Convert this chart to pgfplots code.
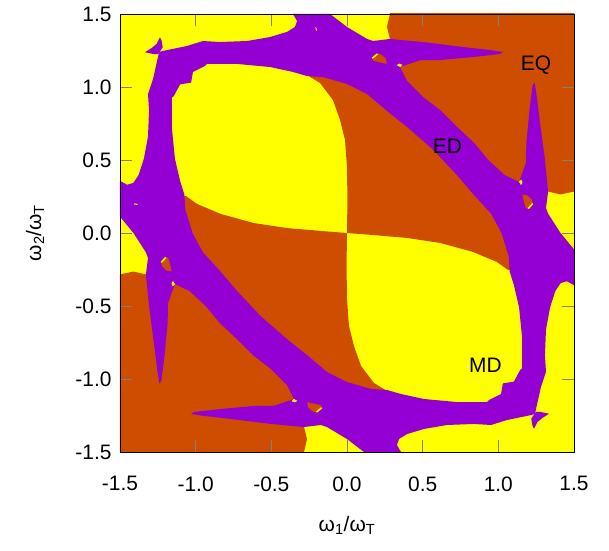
\documentclass[border=0pt]{standalone}
\usepackage{pgfplots}
\pgfplotsset{compat=1.18}
\usepackage{fontspec}
\setmainfont{Liberation Sans}
\definecolor{yy}{RGB}{255,255,0}
\definecolor{oo}{RGB}{206,77,0}
\definecolor{pp}{RGB}{148,0,211}
\begin{document}
\begin{tikzpicture}
\begin{axis}[
  scale only axis, width=454bp, height=438bp,
  xmin=-1.5, xmax=1.5, ymin=-1.5, ymax=1.5,
  axis on top,
  axis background/.style={fill=yy},
  xtick={-1.5,-1,-0.5,0,0.5,1,1.5},
  xticklabels={-1.5,-1.0,-0.5,0.0,0.5,1.0,1.5},
  ytick={-1.5,-1,-0.5,0,0.5,1,1.5},
  yticklabels={-1.5,-1.0,-0.5,0.0,0.5,1.0,1.5},
  tick align=inside, major tick length=12bp,
  tick style={gray, line width=0.5pt},
  axis line style={black, line width=0.7pt},
  ticklabel style={font=\fontsize{21}{25}\selectfont},
  xticklabel style={yshift=-21bp},
  yticklabel style={xshift=-5bp},
  xlabel={ω\textsubscript{1}/ω\textsubscript{T}},
  ylabel={ω\textsubscript{2}/ω\textsubscript{T}},
  label style={font=\fontsize{21}{25}\selectfont},
  xlabel style={at={(axis description cs:0.5,-0.167)}, anchor=center},
  ylabel style={at={(axis description cs:-0.187,0.5)}, anchor=center},
]
\coordinate (bl) at (rel axis cs:0,0);
\coordinate (tr) at (rel axis cs:1,1);
% orange region, upper right
\addplot[draw=none, fill=oo, mark=none] coordinates {
(0,0) (0.003,0.226) (0,0.45) (-0.013,0.637) (-0.046,0.774) (-0.093,0.911) (-0.178,1.027) (-0.264,1.082)
(-0.25,1.2) (0.1,1.25) (0.26,1.30) (0.284,1.329) (0.264,1.411) (0.284,1.5) (0.284,1.6) (1.6,1.6)
(1.6,0.284) (1.5,0.284) (1.411,0.264) (1.329,0.284) (1.30,0.26) (1.25,0.1) (1.2,-0.25)
(1.064,-0.253) (0.991,-0.199) (0.833,-0.130) (0.615,-0.068) (0.397,-0.034) (0.172,-0.014) (0,0)};
% orange region, lower left
\addplot[draw=none, fill=oo, mark=none] coordinates {
(0,0) (-0.003,-0.226) (0,-0.45) (0.013,-0.637) (0.046,-0.774) (0.093,-0.911) (0.178,-1.027) (0.264,-1.082)
(0.25,-1.2) (-0.1,-1.25) (-0.26,-1.30) (-0.284,-1.329) (-0.264,-1.411) (-0.284,-1.5) (-0.284,-1.6) (-1.6,-1.6)
(-1.6,-0.284) (-1.5,-0.284) (-1.411,-0.264) (-1.329,-0.284) (-1.30,-0.26) (-1.25,-0.1) (-1.2,0.25)
(-1.064,0.253) (-0.991,0.199) (-0.833,0.130) (-0.615,0.068) (-0.397,0.034) (-0.172,0.014) (0,0)};
% purple ring
\addplot[draw=none, fill=pp, mark=none, even odd rule] coordinates {
(-1.24,1.24) (-1.216,1.247) (-1.057,1.281) (-0.952,1.315) (-0.839,1.308) (-0.661,1.315) (-0.509,1.342) (-0.397,1.377) (-0.344,1.411) (-0.330,1.452) (-0.357,1.5) (-0.112,1.5) (0.0,1.411) (0.132,1.329) (0.172,1.315) (0.284,1.329) (0.502,1.308) (0.767,1.274) (0.945,1.253) (1.031,1.240) (1.011,1.226) (0.833,1.205) (0.615,1.185) (0.482,1.183) (0.350,1.137) (0.397,1.041) (0.502,0.932) (0.615,0.842) (0.727,0.727) (0.842,0.615) (0.932,0.502) (1.041,0.397) (1.137,0.350) (1.183,0.482) (1.185,0.615) (1.205,0.833) (1.226,1.011) (1.240,1.031) (1.253,0.945) (1.274,0.767) (1.308,0.502) (1.329,0.284) (1.315,0.172) (1.329,0.132) (1.411,0.0) (1.5,-0.112) (1.5,-0.357) (1.452,-0.330) (1.411,-0.344) (1.377,-0.397) (1.342,-0.509) (1.315,-0.661) (1.308,-0.839) (1.315,-0.952) (1.281,-1.057) (1.247,-1.216) (1.24,-1.24)
(1.216,-1.247) (1.057,-1.281) (0.952,-1.315) (0.839,-1.308) (0.661,-1.315) (0.509,-1.342) (0.397,-1.377) (0.344,-1.411) (0.330,-1.452) (0.357,-1.5) (0.112,-1.5) (0.0,-1.411) (-0.132,-1.329) (-0.172,-1.315) (-0.284,-1.329) (-0.502,-1.308) (-0.767,-1.274) (-0.945,-1.253) (-1.031,-1.240) (-1.011,-1.226) (-0.833,-1.205) (-0.615,-1.185) (-0.482,-1.183) (-0.350,-1.137) (-0.397,-1.041) (-0.502,-0.932) (-0.615,-0.842) (-0.727,-0.727) (-0.842,-0.615) (-0.932,-0.502) (-1.041,-0.397) (-1.137,-0.350) (-1.183,-0.482) (-1.185,-0.615) (-1.205,-0.833) (-1.226,-1.011) (-1.240,-1.031) (-1.253,-0.945) (-1.274,-0.767) (-1.308,-0.502) (-1.329,-0.284) (-1.315,-0.172) (-1.329,-0.132) (-1.411,0.0) (-1.5,0.112) (-1.5,0.357) (-1.452,0.330) (-1.411,0.344) (-1.377,0.397) (-1.342,0.509) (-1.315,0.661) (-1.308,0.839) (-1.315,0.952) (-1.281,1.057) (-1.247,1.216) (-1.24,1.24)
(-1.03,1.03) (-1.018,1.103) (-0.939,1.144) (-0.925,1.158) (-0.727,1.158) (-0.509,1.137) (-0.357,1.103) (-0.264,1.075) (-0.159,1.068) (0.0,1.021) (0.132,0.952) (0.264,0.836) (0.397,0.726) (0.57,0.57) (0.726,0.397) (0.836,0.264) (0.952,0.132) (1.021,0.0) (1.068,-0.159) (1.075,-0.264) (1.103,-0.357) (1.137,-0.509) (1.158,-0.727) (1.158,-0.925) (1.144,-0.939) (1.103,-1.018) (1.03,-1.03)
(1.018,-1.103) (0.939,-1.144) (0.925,-1.158) (0.727,-1.158) (0.509,-1.137) (0.357,-1.103) (0.264,-1.075) (0.159,-1.068) (0.0,-1.021) (-0.132,-0.952) (-0.264,-0.836) (-0.397,-0.726) (-0.57,-0.57) (-0.726,-0.397) (-0.836,-0.264) (-0.952,-0.132) (-1.021,0.0) (-1.068,0.159) (-1.075,0.264) (-1.103,0.357) (-1.137,0.509) (-1.158,0.727) (-1.158,0.925) (-1.144,0.939) (-1.103,1.018) (-1.03,1.03)
(-1.24,1.24)};
% purple horns at two corners
\addplot[draw=none, fill=pp, mark=none] coordinates {(-1.335,1.238) (-1.280,1.226) (-1.247,1.226) (-1.218,1.272) (-1.225,1.317) (-1.236,1.340) (-1.258,1.295) (-1.291,1.267) (-1.335,1.238)};
\addplot[draw=none, fill=pp, mark=none] coordinates {(1.335,-1.238) (1.280,-1.226) (1.247,-1.226) (1.218,-1.272) (1.225,-1.317) (1.236,-1.340) (1.258,-1.295) (1.291,-1.267) (1.335,-1.238)};
% small orange islands inside the band
\addplot[draw=none, fill=oo, mark=none] coordinates {(0.163,1.203) (0.196,1.231) (0.229,1.221) (0.258,1.192) (0.262,1.158) (0.218,1.169) (0.174,1.180) (0.163,1.203)};
\addplot[draw=none, fill=oo, mark=none] coordinates {(1.203,0.163) (1.231,0.196) (1.221,0.229) (1.192,0.258) (1.158,0.262) (1.169,0.218) (1.180,0.174) (1.203,0.163)};
\addplot[draw=none, fill=oo, mark=none] coordinates {(-0.163,-1.203) (-0.196,-1.231) (-0.229,-1.221) (-0.258,-1.192) (-0.262,-1.158) (-0.218,-1.169) (-0.174,-1.180) (-0.163,-1.203)};
\addplot[draw=none, fill=oo, mark=none] coordinates {(-1.203,-0.163) (-1.231,-0.196) (-1.221,-0.229) (-1.192,-0.258) (-1.158,-0.262) (-1.169,-0.218) (-1.180,-0.174) (-1.203,-0.163)};
% yellow slivers and dots
\addplot[draw=none, fill=yy, mark=none] coordinates {(0.165,1.202) (0.196,1.229) (0.206,1.225) (0.182,1.203) (0.170,1.193) (0.165,1.202)};
\addplot[draw=none, fill=yy, mark=none] coordinates {(1.202,0.165) (1.229,0.196) (1.225,0.206) (1.203,0.182) (1.193,0.170) (1.202,0.165)};
\addplot[draw=none, fill=yy, mark=none] coordinates {(-0.165,-1.202) (-0.196,-1.229) (-0.206,-1.225) (-0.182,-1.203) (-0.170,-1.193) (-0.165,-1.202)};
\addplot[draw=none, fill=yy, mark=none] coordinates {(-1.202,-0.165) (-1.229,-0.196) (-1.225,-0.206) (-1.203,-0.182) (-1.193,-0.170) (-1.202,-0.165)};
\addplot[draw=none, fill=yy, mark=none] coordinates {(0.328,1.150) (0.345,1.160) (0.366,1.152) (0.352,1.136) (0.328,1.150)};
\addplot[draw=none, fill=yy, mark=none] coordinates {(1.150,0.328) (1.160,0.345) (1.152,0.366) (1.136,0.352) (1.150,0.328)};
\addplot[draw=none, fill=yy, mark=none] coordinates {(-0.328,-1.150) (-0.345,-1.160) (-0.366,-1.152) (-0.352,-1.136) (-0.328,-1.150)};
\addplot[draw=none, fill=yy, mark=none] coordinates {(-1.150,-0.328) (-1.160,-0.345) (-1.152,-0.366) (-1.136,-0.352) (-1.150,-0.328)};
% tiny specks
\addplot[draw=none, fill=pp, mark=none] coordinates {(1.383,-0.195) (1.405,-0.199) (1.407,-0.206) (1.385,-0.202) (1.383,-0.195)};
\addplot[draw=none, fill=pp, mark=none] coordinates {(0.199,-1.385) (0.206,-1.39) (0.209,-1.41) (0.202,-1.405) (0.199,-1.385)};
\addplot[draw=none, fill=yy, mark=none] coordinates {(-1.383,0.199) (-1.405,0.203) (-1.407,0.196) (-1.385,0.192) (-1.383,0.199)};
\addplot[draw=none, fill=yy, mark=none] coordinates {(-0.199,1.385) (-0.206,1.39) (-0.209,1.41) (-0.202,1.405) (-0.199,1.385)};
\node[font=\fontsize{21}{25}\selectfont] at (axis cs:1.249,1.151) {EQ};
\node[font=\fontsize{21}{25}\selectfont] at (axis cs:0.664,0.596) {ED};
\node[font=\fontsize{21}{25}\selectfont] at (axis cs:0.915,-0.904) {MD};
\end{axis}
\pgfresetboundingbox
\path ([shift={(-120bp,-99bp)}]bl) rectangle ([shift={(35bp,14bp)}]tr);
\end{tikzpicture}
\end{document}
